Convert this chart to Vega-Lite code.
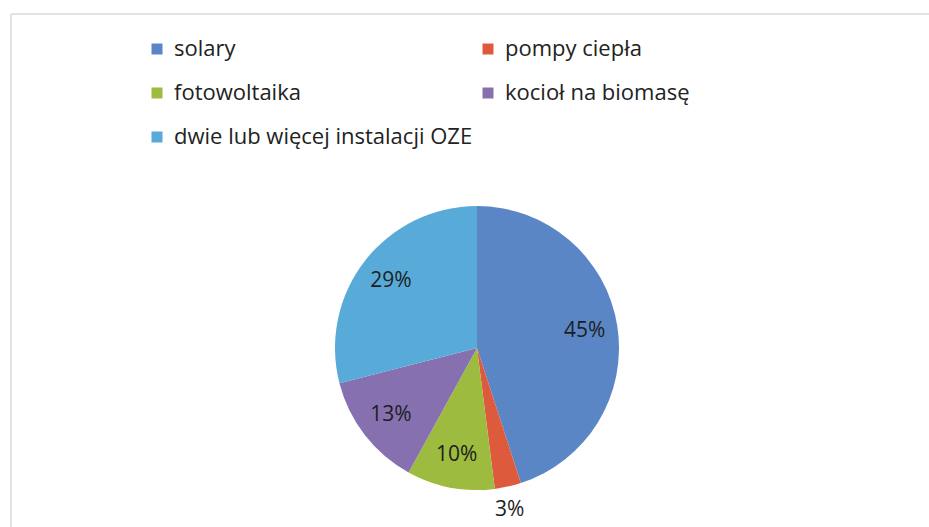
{
  "$schema": "https://vega.github.io/schema/vega-lite/v6.json",
  "autosize": {"type": "none"},
  "padding": {"left": 11, "top": 14, "right": 0, "bottom": 0},
  "width": 932,
  "height": 668,
  "background": "white",
  "config": {
    "view": {"stroke": null},
    "font": "Open Sans"
  },
  "data": {
    "values": [
      {"nr": 1, "kategoria": "solary", "udzial": 45, "etykieta": "45%"},
      {"nr": 2, "kategoria": "pompy ciepła", "udzial": 3, "etykieta": "3%"},
      {"nr": 3, "kategoria": "fotowoltaika", "udzial": 10, "etykieta": "10%"},
      {"nr": 4, "kategoria": "kocioł na biomasę", "udzial": 13, "etykieta": "13%"},
      {"nr": 5, "kategoria": "dwie lub więcej instalacji OZE", "udzial": 29, "etykieta": "29%"}
    ]
  },
  "layer": [
    {
      "data": {"values": [{"ramka": 1}]},
      "mark": {"type": "rect", "fill": null, "stroke": "#c8c8c8", "strokeWidth": 1},
      "encoding": {}
    },
    {
      "mark": {"type": "arc", "outerRadius": 142},
      "encoding": {
        "theta": {"field": "udzial", "type": "quantitative", "stack": true},
        "order": {"field": "nr", "type": "quantitative"},
        "color": {
          "field": "kategoria",
          "type": "nominal",
          "scale": {
            "domain": ["solary", "pompy ciepła", "fotowoltaika", "kocioł na biomasę", "dwie lub więcej instalacji OZE"],
            "range": ["#5b86c6", "#dd5b3c", "#9cbb3f", "#8670b0", "#58abd8"]
          },
          "legend": {
            "orient": "none",
            "legendX": 135,
            "legendY": 24,
            "columns": 2,
            "direction": "horizontal",
            "title": null,
            "padding": 0,
            "symbolType": "square",
            "symbolSize": 121,
            "symbolStrokeWidth": 0,
            "labelFont": "Open Sans",
            "labelFontSize": 22,
            "labelColor": "#222222",
            "labelOffset": 6,
            "labelLimit": 500,
            "rowPadding": 22,
            "columnPadding": 4
          }
        }
      }
    },
    {
      "mark": {"type": "text", "radius": 109, "fontSize": 21, "font": "Open Sans", "color": "#1e1e1e"},
      "encoding": {
        "theta": {"field": "udzial", "type": "quantitative", "stack": true},
        "order": {"field": "nr", "type": "quantitative"},
        "text": {"condition": {"test": "datum.udzial >= 5", "field": "etykieta"}, "value": ""}
      }
    },
    {
      "mark": {"type": "text", "radius": 165, "thetaOffset": 0.02, "fontSize": 21, "font": "Open Sans", "color": "#1e1e1e"},
      "encoding": {
        "theta": {"field": "udzial", "type": "quantitative", "stack": true},
        "order": {"field": "nr", "type": "quantitative"},
        "text": {"condition": {"test": "datum.udzial < 5", "field": "etykieta"}, "value": ""}
      }
    }
  ]
}
